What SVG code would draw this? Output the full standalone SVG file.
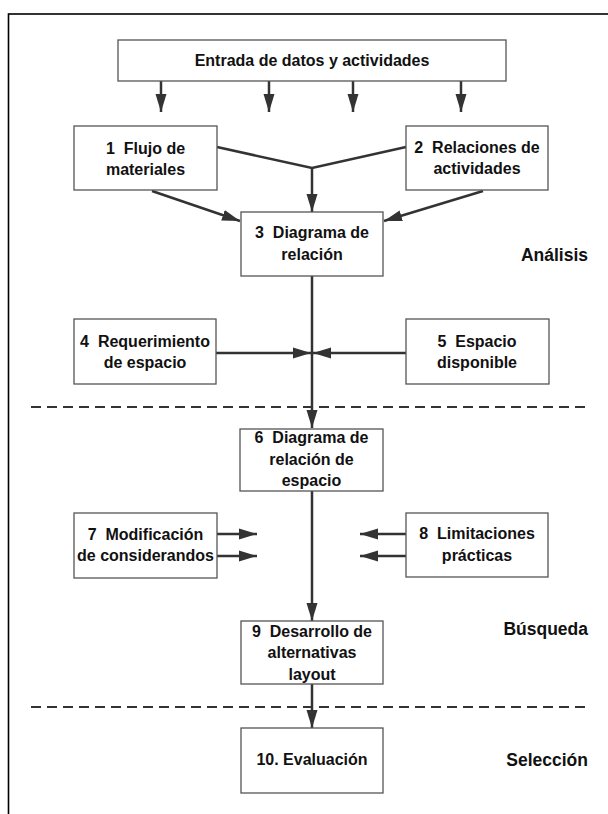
<svg xmlns="http://www.w3.org/2000/svg" width="608" height="814" viewBox="0 0 608 814">
<style>
.box{fill:#fff;stroke:#555;stroke-width:1.3}
.t{font-family:"Liberation Sans",Arial,sans-serif;font-weight:bold;font-size:16px;fill:#111;text-anchor:middle;white-space:pre}
.lbl{font-family:"Liberation Sans",Arial,sans-serif;font-weight:bold;font-size:17.5px;fill:#111;text-anchor:end}
.c{stroke:#333;stroke-width:2.5;fill:none}
.a{marker-end:url(#ah)}
.d{stroke:#333;stroke-width:2;stroke-dasharray:10 6;fill:none}
</style>
<defs>
<marker id="ah" markerUnits="userSpaceOnUse" markerWidth="18" markerHeight="12" refX="18" refY="6" orient="auto">
<path d="M0,0.5 L18,6 L0,11.5 z" fill="#333"/>
</marker>
</defs>
<rect x="8.5" y="14" width="640" height="840" fill="none" stroke="#000" stroke-width="1.6"/>
<g id="connectors">
<line class="c a" x1="161" y1="81" x2="161" y2="112"/>
<line class="c a" x1="269" y1="81" x2="269" y2="112"/>
<line class="c a" x1="353" y1="81" x2="353" y2="112"/>
<line class="c a" x1="461" y1="81" x2="461" y2="112"/>
<polyline class="c" points="217,147 312,168 406,147"/>
<line class="c a" x1="312" y1="168" x2="312" y2="212"/>
<line class="c a" x1="152" y1="191" x2="240" y2="221"/>
<line class="c a" x1="483" y1="191" x2="384" y2="221"/>
<line class="c a" x1="312" y1="276" x2="312" y2="428"/>
<line class="c a" x1="216" y1="353" x2="311" y2="353"/>
<line class="c a" x1="406" y1="353" x2="313" y2="353"/>
<line class="c a" x1="312" y1="491" x2="312" y2="621"/>
<line class="c a" x1="217" y1="534" x2="257" y2="534"/>
<line class="c a" x1="217" y1="556" x2="257" y2="556"/>
<line class="c a" x1="406" y1="534" x2="360" y2="534"/>
<line class="c a" x1="406" y1="556" x2="360" y2="556"/>
<line class="c a" x1="312" y1="684" x2="312" y2="728"/>
<line class="d" x1="31" y1="407" x2="590" y2="407"/>
<line class="d" x1="31" y1="707" x2="590" y2="707"/>
</g>
<g id="n0"><rect class="box" x="118" y="40" width="388" height="41"/><text class="t" x="312" y="66">Entrada de datos y actividades</text></g>
<g id="n1"><rect class="box" x="74" y="126" width="143" height="64"/><text class="t" x="145.5" y="154">1  Flujo de</text><text class="t" x="145.5" y="175">materiales</text></g>
<g id="n2"><rect class="box" x="406" y="126" width="142" height="64"/><text class="t" x="477" y="153">2  Relaciones de</text><text class="t" x="477" y="174">actividades</text></g>
<g id="n3"><rect class="box" x="241" y="212" width="142" height="64"/><text class="t" x="312" y="238">3  Diagrama de</text><text class="t" x="312" y="260">relación</text></g>
<g id="n4"><rect class="box" x="74" y="319" width="142" height="65"/><text class="t" x="145" y="347">4  Requerimiento</text><text class="t" x="145" y="368">de espacio</text></g>
<g id="n5"><rect class="box" x="406" y="319" width="143" height="65"/><text class="t" x="477" y="347">5  Espacio</text><text class="t" x="477" y="368">disponible</text></g>
<g id="n6"><rect class="box" x="240" y="429" width="143" height="62"/><text class="t" x="311.5" y="443">6  Diagrama de</text><text class="t" x="311.5" y="465">relación de</text><text class="t" x="311.5" y="486">espacio</text></g>
<g id="n7"><rect class="box" x="74" y="513" width="143" height="65"/><text class="t" x="145.5" y="540">7  Modificación</text><text class="t" x="145.5" y="561">de considerandos</text></g>
<g id="n8"><rect class="box" x="406" y="513" width="142" height="64"/><text class="t" x="477" y="539">8  Limitaciones</text><text class="t" x="477" y="561">prácticas</text></g>
<g id="n9"><rect class="box" x="241" y="621" width="142" height="63"/><text class="t" x="312" y="637">9  Desarrollo de</text><text class="t" x="312" y="658">alternativas</text><text class="t" x="312" y="680">layout</text></g>
<g id="n10"><rect class="box" x="241" y="728" width="142" height="65"/><text class="t" x="312" y="765">10. Evaluación</text></g>
<g id="labels">
<text class="lbl" x="588" y="261">Análisis</text>
<text class="lbl" x="588" y="635">Búsqueda</text>
<text class="lbl" x="588" y="766">Selección</text>
</g>
</svg>
